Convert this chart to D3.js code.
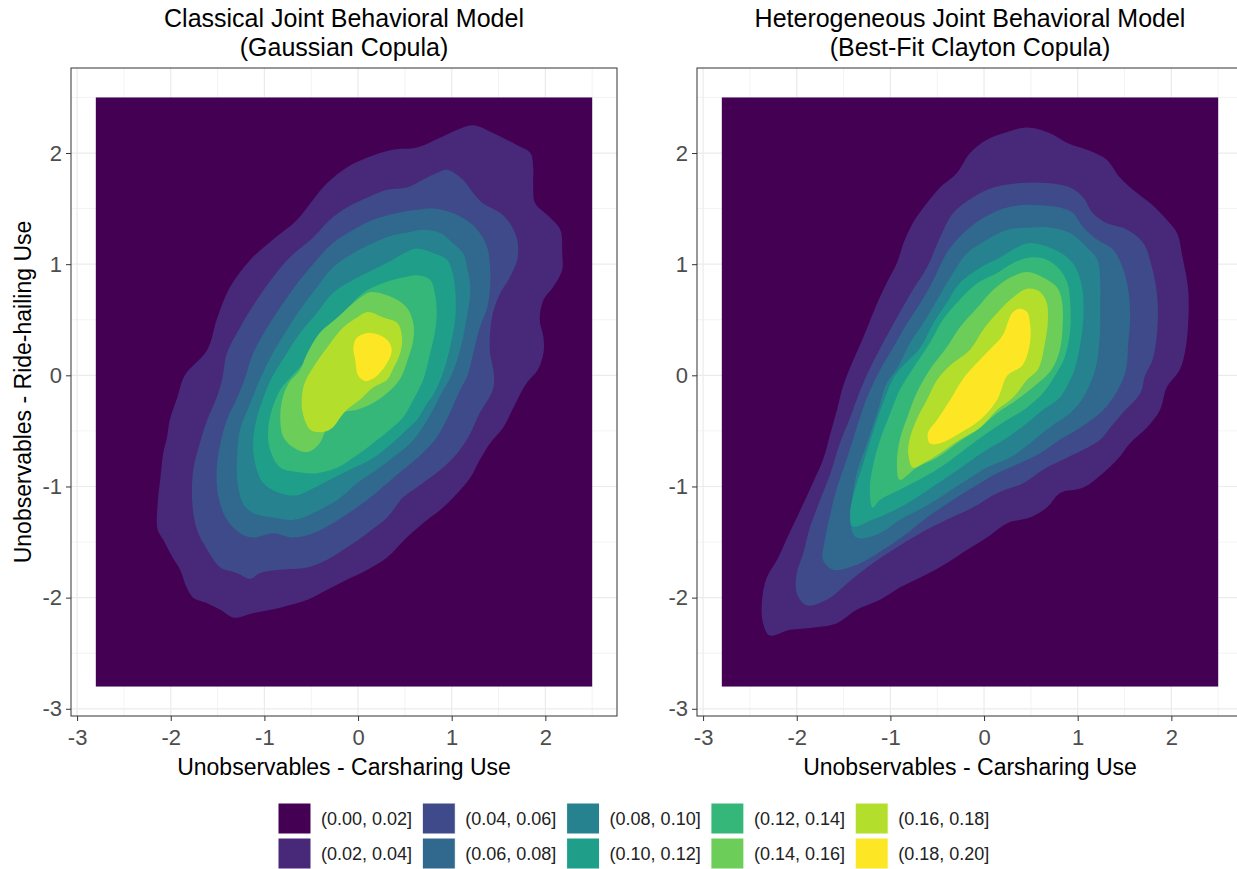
<!DOCTYPE html>
<html>
  <head>
    <title>Joint Behavioral Model densities</title>
    <script src="https://cdn.jsdelivr.net/npm/d3@7"></script>
    <style>
      body, html { margin: 0; padding: 0; background: #fff; }
      svg text { font-family: "Liberation Sans", Arial, sans-serif; }
    </style>
  </head>
  <body>
    <svg id="svg" width="1237" height="869"></svg>
    <script>
      // ---- data ----
      const xTicks = [-3, -2, -1, 0, 1, 2];
      const yTicks = [-3, -2, -1, 0, 1, 2];
      const gridExtent = [-2.8, 2.5]; // density grid covers this in x and y
      const bandLabels = ["(0.00, 0.02]", "(0.02, 0.04]", "(0.04, 0.06]", "(0.06, 0.08]", "(0.08, 0.10]",
                          "(0.10, 0.12]", "(0.12, 0.14]", "(0.14, 0.16]", "(0.16, 0.18]", "(0.18, 0.20]"];
      const titlesLeft = ["Classical Joint Behavioral Model", "(Gaussian Copula)"];
      const titlesRight = ["Heterogeneous Joint Behavioral Model", "(Best-Fit Clayton Copula)"];
      const xTitle = "Unobservables - Carsharing Use";
      const yTitle = "Unobservables - Ride-hailing Use";

      // contour outlines (x, y) where density > level, Gaussian copula panel
      const gauss_02 = [[1.23,2.25],[1.44,2.18],[1.70,2.07],[1.84,2.00],[1.87,1.87],[1.87,1.69],[1.89,1.55],[2.05,1.42],[2.16,1.31],[2.18,1.10],[2.18,0.95],[2.08,0.79],[1.98,0.68],[1.94,0.50],[1.98,0.34],[1.98,0.20],[1.92,0.05],[1.80,-0.07],[1.66,-0.29],[1.55,-0.47],[1.41,-0.61],[1.30,-0.76],[1.20,-0.92],[1.06,-1.06],[0.88,-1.21],[0.74,-1.30],[0.52,-1.46],[0.31,-1.64],[0.10,-1.75],[-0.12,-1.84],[-0.33,-1.93],[-0.54,-2.02],[-0.83,-2.09],[-1.12,-2.14],[-1.33,-2.18],[-1.47,-2.11],[-1.61,-2.05],[-1.76,-2.00],[-1.83,-1.91],[-1.90,-1.75],[-1.98,-1.64],[-2.08,-1.48],[-2.14,-1.39],[-2.14,-1.15],[-2.11,-0.92],[-2.08,-0.70],[-2.04,-0.56],[-2.01,-0.40],[-1.93,-0.20],[-1.85,0.00],[-1.61,0.23],[-1.51,0.50],[-1.37,0.79],[-1.15,1.04],[-0.91,1.22],[-0.65,1.40],[-0.48,1.58],[-0.33,1.73],[-0.12,1.87],[0.10,1.96],[0.37,2.03],[0.63,2.05],[0.88,2.14],[1.06,2.21]];
      const gauss_04 = [[0.95,1.85],[1.12,1.76],[1.23,1.64],[1.33,1.55],[1.52,1.46],[1.62,1.37],[1.70,1.22],[1.70,1.04],[1.62,0.88],[1.52,0.74],[1.44,0.56],[1.41,0.38],[1.41,0.20],[1.45,0.02],[1.44,-0.13],[1.30,-0.34],[1.20,-0.52],[1.06,-0.70],[0.88,-0.85],[0.69,-0.97],[0.48,-1.10],[0.31,-1.28],[0.10,-1.42],[-0.12,-1.55],[-0.33,-1.66],[-0.54,-1.73],[-0.83,-1.75],[-1.05,-1.78],[-1.15,-1.83],[-1.29,-1.78],[-1.47,-1.73],[-1.61,-1.57],[-1.72,-1.39],[-1.77,-1.15],[-1.76,-0.85],[-1.69,-0.61],[-1.61,-0.40],[-1.51,-0.20],[-1.45,-0.03],[-1.40,0.20],[-1.26,0.43],[-1.08,0.68],[-0.91,0.88],[-0.73,1.06],[-0.48,1.24],[-0.30,1.40],[-0.12,1.51],[0.10,1.60],[0.31,1.67],[0.52,1.69],[0.69,1.76],[0.84,1.82]];
      const gauss_06 = [[0.80,1.50],[1.01,1.46],[1.20,1.37],[1.30,1.28],[1.38,1.15],[1.41,0.97],[1.41,0.79],[1.38,0.61],[1.30,0.43],[1.23,0.20],[1.17,0.00],[1.09,-0.13],[0.98,-0.34],[0.84,-0.56],[0.69,-0.70],[0.48,-0.85],[0.31,-0.97],[0.13,-1.10],[-0.05,-1.21],[-0.27,-1.33],[-0.48,-1.42],[-0.69,-1.46],[-0.91,-1.42],[-1.12,-1.46],[-1.26,-1.42],[-1.40,-1.30],[-1.49,-1.10],[-1.51,-0.85],[-1.47,-0.61],[-1.40,-0.40],[-1.29,-0.20],[-1.21,-0.03],[-1.12,0.20],[-0.97,0.43],[-0.80,0.65],[-0.62,0.86],[-0.44,1.04],[-0.27,1.19],[-0.05,1.31],[0.16,1.40],[0.42,1.46],[0.63,1.49]];
      const gauss_08 = [[0.69,1.31],[0.88,1.28],[1.01,1.19],[1.12,1.10],[1.17,0.95],[1.20,0.77],[1.17,0.56],[1.12,0.34],[1.06,0.14],[0.98,-0.03],[0.91,-0.13],[0.80,-0.31],[0.69,-0.47],[0.56,-0.61],[0.37,-0.74],[0.20,-0.85],[-0.01,-0.97],[-0.22,-1.12],[-0.48,-1.24],[-0.69,-1.30],[-0.91,-1.28],[-1.12,-1.24],[-1.23,-1.15],[-1.29,-0.94],[-1.29,-0.70],[-1.26,-0.49],[-1.15,-0.25],[-1.05,-0.04],[-0.91,0.20],[-0.76,0.41],[-0.62,0.59],[-0.44,0.79],[-0.27,0.97],[-0.05,1.10],[0.16,1.19],[0.37,1.26],[0.56,1.29]];
      const gauss_10 = [[0.63,1.14],[0.80,1.10],[0.95,1.04],[1.01,0.92],[1.04,0.74],[1.04,0.52],[1.00,0.32],[0.95,0.14],[0.88,-0.04],[0.80,-0.18],[0.74,-0.25],[0.63,-0.40],[0.48,-0.52],[0.31,-0.65],[0.13,-0.76],[-0.09,-0.85],[-0.30,-0.94],[-0.51,-1.03],[-0.65,-1.08],[-0.83,-1.06],[-1.01,-0.97],[-1.10,-0.79],[-1.12,-0.58],[-1.08,-0.38],[-1.01,-0.20],[-0.92,-0.02],[-0.76,0.20],[-0.62,0.38],[-0.44,0.56],[-0.27,0.74],[-0.05,0.86],[0.16,0.95],[0.37,1.04],[0.52,1.11]];
      const gauss_12 = [[0.63,0.90],[0.77,0.86],[0.82,0.74],[0.84,0.56],[0.82,0.38],[0.77,0.20],[0.70,-0.03],[0.59,-0.22],[0.48,-0.38],[0.34,-0.49],[0.16,-0.61],[-0.05,-0.74],[-0.22,-0.83],[-0.44,-0.88],[-0.65,-0.87],[-0.83,-0.83],[-0.94,-0.67],[-0.96,-0.49],[-0.92,-0.31],[-0.83,-0.13],[-0.70,0.00],[-0.48,0.20],[-0.30,0.41],[-0.12,0.59],[0.05,0.74],[0.27,0.83],[0.48,0.88]];
      const gauss_14 = [[0.16,0.75],[0.37,0.70],[0.52,0.61],[0.59,0.47],[0.59,0.32],[0.53,0.14],[0.45,-0.03],[0.31,-0.16],[0.16,-0.25],[-0.01,-0.31],[-0.19,-0.34],[-0.33,-0.47],[-0.41,-0.61],[-0.54,-0.69],[-0.69,-0.65],[-0.80,-0.55],[-0.83,-0.40],[-0.81,-0.22],[-0.74,-0.07],[-0.62,0.05],[-0.54,0.20],[-0.41,0.38],[-0.22,0.52],[-0.05,0.65],[0.10,0.74]];
      const gauss_16 = [[0.10,0.57],[0.27,0.52],[0.42,0.47],[0.47,0.34],[0.45,0.20],[0.37,0.05],[0.31,-0.04],[0.16,-0.11],[0.02,-0.22],[-0.12,-0.31],[-0.19,-0.38],[-0.27,-0.47],[-0.37,-0.51],[-0.51,-0.49],[-0.59,-0.34],[-0.60,-0.20],[-0.57,-0.07],[-0.48,0.07],[-0.33,0.25],[-0.16,0.43],[-0.01,0.52]];
      const gauss_18 = [[-0.01,0.34],[0.13,0.38],[0.31,0.32],[0.36,0.23],[0.31,0.11],[0.23,0.02],[0.16,-0.03],[0.07,-0.05],[0.00,0.00],[-0.03,0.14],[-0.05,0.25]];

      // contour outlines, Clayton copula panel
      const clay_02 = [[0.46,2.23],[0.70,2.18],[0.89,2.09],[1.16,2.01],[1.31,1.94],[1.45,1.78],[1.59,1.67],[1.80,1.53],[1.95,1.40],[2.06,1.28],[2.12,1.06],[2.18,0.77],[2.18,0.47],[2.15,0.23],[2.09,0.05],[1.95,-0.11],[1.88,-0.31],[1.74,-0.47],[1.56,-0.61],[1.42,-0.76],[1.27,-0.88],[1.06,-1.01],[0.81,-1.06],[0.67,-1.19],[0.49,-1.28],[0.25,-1.33],[0.03,-1.46],[-0.18,-1.57],[-0.40,-1.69],[-0.68,-1.82],[-0.90,-1.91],[-1.11,-2.02],[-1.36,-2.11],[-1.57,-2.23],[-1.83,-2.27],[-2.07,-2.29],[-2.29,-2.34],[-2.36,-2.23],[-2.37,-2.02],[-2.32,-1.82],[-2.21,-1.66],[-2.10,-1.46],[-1.96,-1.21],[-1.83,-0.97],[-1.72,-0.76],[-1.64,-0.52],[-1.57,-0.31],[-1.51,-0.11],[-1.43,0.07],[-1.29,0.34],[-1.14,0.65],[-1.04,0.83],[-0.93,1.01],[-0.86,1.19],[-0.76,1.37],[-0.61,1.55],[-0.47,1.69],[-0.29,1.82],[-0.15,2.00],[0.03,2.12],[0.25,2.19]];
      const clay_04 = [[0.38,1.73],[0.67,1.73],[0.92,1.69],[1.06,1.60],[1.16,1.46],[1.31,1.37],[1.53,1.31],[1.70,1.19],[1.80,0.95],[1.85,0.70],[1.85,0.41],[1.80,0.14],[1.72,0.00],[1.67,-0.16],[1.48,-0.34],[1.35,-0.47],[1.24,-0.58],[1.06,-0.67],[0.84,-0.76],[0.63,-0.85],[0.42,-0.97],[0.14,-1.06],[-0.12,-1.19],[-0.40,-1.30],[-0.68,-1.42],[-0.97,-1.57],[-1.25,-1.73],[-1.46,-1.87],[-1.68,-2.02],[-1.89,-2.07],[-2.00,-1.96],[-2.00,-1.78],[-1.93,-1.60],[-1.86,-1.37],[-1.75,-1.12],[-1.64,-0.88],[-1.54,-0.61],[-1.43,-0.38],[-1.32,-0.13],[-1.22,0.06],[-1.08,0.29],[-0.93,0.52],[-0.76,0.77],[-0.61,0.97],[-0.47,1.24],[-0.33,1.46],[-0.12,1.60],[0.10,1.69]];
      const clay_06 = [[0.60,1.53],[0.81,1.51],[0.95,1.46],[1.06,1.33],[1.21,1.22],[1.38,1.13],[1.48,0.97],[1.54,0.77],[1.56,0.52],[1.54,0.29],[1.51,0.03],[1.38,-0.20],[1.24,-0.34],[1.03,-0.47],[0.81,-0.58],[0.60,-0.70],[0.38,-0.79],[0.14,-0.88],[-0.12,-1.01],[-0.33,-1.12],[-0.61,-1.28],[-0.82,-1.42],[-1.08,-1.57],[-1.32,-1.69],[-1.61,-1.75],[-1.72,-1.66],[-1.70,-1.48],[-1.64,-1.24],[-1.57,-1.01],[-1.46,-0.74],[-1.36,-0.47],[-1.25,-0.20],[-1.11,0.05],[-0.97,0.25],[-0.82,0.47],[-0.68,0.65],[-0.54,0.86],[-0.40,1.10],[-0.22,1.28],[-0.04,1.40],[0.17,1.49],[0.38,1.53]];
      const clay_08 = [[0.49,1.33],[0.70,1.33],[0.92,1.28],[1.10,1.15],[1.21,1.04],[1.24,0.86],[1.24,0.65],[1.24,0.41],[1.21,0.14],[1.16,-0.02],[1.06,-0.20],[0.92,-0.34],[0.70,-0.47],[0.49,-0.61],[0.28,-0.74],[0.03,-0.83],[-0.18,-0.94],[-0.40,-1.06],[-0.65,-1.19],[-0.90,-1.30],[-1.11,-1.42],[-1.36,-1.46],[-1.43,-1.33],[-1.41,-1.12],[-1.36,-0.88],[-1.25,-0.61],[-1.14,-0.34],[-1.04,-0.07],[-0.93,0.06],[-0.79,0.29],[-0.65,0.47],[-0.50,0.68],[-0.36,0.88],[-0.18,1.10],[0.03,1.22],[0.25,1.31]];
      const clay_10 = [[0.49,1.19],[0.70,1.15],[0.89,1.06],[0.99,0.95],[1.05,0.77],[1.06,0.52],[1.03,0.29],[0.97,0.06],[0.92,-0.04],[0.81,-0.20],[0.63,-0.31],[0.46,-0.43],[0.25,-0.56],[0.03,-0.67],[-0.18,-0.79],[-0.40,-0.92],[-0.65,-1.06],[-0.90,-1.19],[-1.19,-1.30],[-1.40,-1.36],[-1.43,-1.24],[-1.38,-1.03],[-1.29,-0.79],[-1.19,-0.52],[-1.08,-0.25],[-0.95,0.00],[-0.68,0.25],[-0.54,0.47],[-0.40,0.65],[-0.26,0.83],[-0.04,0.97],[0.17,1.06],[0.35,1.15]];
      const clay_12 = [[0.49,1.06],[0.67,1.04],[0.81,0.95],[0.89,0.83],[0.92,0.65],[0.92,0.41],[0.86,0.16],[0.76,0.00],[0.63,-0.16],[0.46,-0.29],[0.25,-0.40],[0.03,-0.52],[-0.18,-0.65],[-0.40,-0.79],[-0.65,-0.92],[-0.90,-1.03],[-1.11,-1.12],[-1.19,-1.19],[-1.22,-1.03],[-1.19,-0.83],[-1.11,-0.58],[-1.00,-0.34],[-0.90,-0.13],[-0.76,0.06],[-0.58,0.29],[-0.44,0.50],[-0.26,0.68],[-0.07,0.83],[0.14,0.92],[0.31,1.01]];
      const clay_14 = [[0.46,0.93],[0.63,0.88],[0.78,0.79],[0.83,0.68],[0.84,0.47],[0.81,0.23],[0.72,0.05],[0.52,-0.11],[0.35,-0.22],[0.14,-0.34],[-0.07,-0.49],[-0.29,-0.61],[-0.50,-0.74],[-0.72,-0.83],[-0.90,-0.94],[-0.93,-0.79],[-0.90,-0.58],[-0.82,-0.38],[-0.72,-0.16],[-0.58,0.05],[-0.40,0.25],[-0.26,0.43],[-0.07,0.61],[0.10,0.77],[0.28,0.88]];
      const clay_16 = [[0.46,0.78],[0.60,0.75],[0.67,0.65],[0.68,0.47],[0.65,0.29],[0.58,0.06],[0.46,-0.04],[0.31,-0.20],[0.14,-0.31],[-0.04,-0.47],[-0.26,-0.58],[-0.47,-0.70],[-0.65,-0.79],[-0.76,-0.83],[-0.81,-0.70],[-0.79,-0.56],[-0.72,-0.40],[-0.61,-0.22],[-0.50,-0.04],[-0.36,0.09],[-0.15,0.23],[-0.01,0.41],[0.14,0.56],[0.28,0.68]];
      const clay_18 = [[0.38,0.60],[0.46,0.57],[0.49,0.47],[0.49,0.29],[0.41,0.09],[0.25,0.00],[0.14,-0.22],[-0.04,-0.40],[-0.26,-0.52],[-0.47,-0.61],[-0.58,-0.61],[-0.60,-0.52],[-0.50,-0.40],[-0.36,-0.22],[-0.23,-0.04],[-0.10,0.09],[0.06,0.23],[0.20,0.36],[0.30,0.56]];

      // viridis(10), one colour per band
      const bandColors = ["#440154", "#482878", "#3E4A89", "#31688E", "#26828E",
                          "#1F9E89", "#35B779", "#6DCD59", "#B4DE2C", "#FDE725"];

      const svg = d3.select("#svg");
      const font = '"Liberation Sans", Arial, sans-serif';

      // ggplot style 5% expansion around the grid
      const span = gridExtent[1] - gridExtent[0];
      const domain = [gridExtent[0] - 0.05 * span, gridExtent[1] + 0.05 * span];

      const panelW = 546, panelTop = 68, panelBottom = 716;

      function drawPanel(left, titles, levels, showYTitle) {
        const x = d3.scaleLinear().domain(domain).range([left, left + panelW]);
        const y = d3.scaleLinear().domain(domain).range([panelBottom, panelTop]);
        const g = svg.append("g");

        // grid lines (theme_bw)
        const minor = d3.range(-2.5, 3, 1);
        g.selectAll(".vminor").data(minor).join("line")
          .attr("x1", d => x(d)).attr("x2", d => x(d))
          .attr("y1", panelTop).attr("y2", panelBottom)
          .attr("stroke", "#EBEBEB").attr("stroke-width", 0.6);
        g.selectAll(".hminor").data(minor).join("line")
          .attr("y1", d => y(d)).attr("y2", d => y(d))
          .attr("x1", left).attr("x2", left + panelW)
          .attr("stroke", "#EBEBEB").attr("stroke-width", 0.6);
        g.selectAll(".vmajor").data(xTicks).join("line")
          .attr("x1", d => x(d)).attr("x2", d => x(d))
          .attr("y1", panelTop).attr("y2", panelBottom)
          .attr("stroke", "#EBEBEB").attr("stroke-width", 1.2);
        g.selectAll(".hmajor").data(yTicks).join("line")
          .attr("y1", d => y(d)).attr("y2", d => y(d))
          .attr("x1", left).attr("x2", left + panelW)
          .attr("stroke", "#EBEBEB").attr("stroke-width", 1.2);

        // lowest band fills the whole grid
        g.append("rect")
          .attr("x", x(gridExtent[0])).attr("y", y(gridExtent[1]))
          .attr("width", x(gridExtent[1]) - x(gridExtent[0]))
          .attr("height", y(gridExtent[0]) - y(gridExtent[1]))
          .attr("fill", bandColors[0]);

        const linegen = d3.line()
          .x(d => x(d[0]))
          .y(d => y(d[1]))
          .curve(d3.curveCatmullRomClosed.alpha(0.5));

        levels.forEach((pts, i) => {
          g.append("path")
            .attr("d", linegen(pts))
            .attr("fill", bandColors[i + 1])
            .attr("stroke", "none");
        });

        // panel border
        g.append("rect")
          .attr("x", left).attr("y", panelTop)
          .attr("width", panelW).attr("height", panelBottom - panelTop)
          .attr("fill", "none").attr("stroke", "#333").attr("stroke-width", 1);

        const bottomAxis = d3.axisBottom(x).tickValues(xTicks).tickSize(5).tickPadding(8).tickFormat(d => String(d));
        const leftAxis = d3.axisLeft(y).tickValues(yTicks).tickSize(5).tickPadding(4).tickFormat(d => String(d));

        const ax = g.append("g").attr("transform", `translate(0, ${panelBottom})`).call(bottomAxis);
        const ay = g.append("g").attr("transform", `translate(${left}, 0)`).call(leftAxis);
        [ax, ay].forEach(a => {
          a.select(".domain").remove();
          a.selectAll("line").attr("stroke", "#333");
          a.selectAll("text").attr("font-size", 22).attr("fill", "#4D4D4D").attr("font-family", font);
        });

        // titles
        const cx = left + panelW / 2;
        g.append("text").attr("x", cx).attr("y", 27).attr("text-anchor", "middle")
          .attr("font-size", 25).attr("fill", "#000").text(titles[0]);
        g.append("text").attr("x", cx).attr("y", 56).attr("text-anchor", "middle")
          .attr("font-size", 25).attr("fill", "#000").text(titles[1]);

        g.append("text").attr("x", cx).attr("y", 775).attr("text-anchor", "middle")
          .attr("font-size", 23).attr("fill", "#000").text(xTitle);

        if (showYTitle) {
          g.append("text")
            .attr("transform", `translate(31, ${(panelTop + panelBottom) / 2}) rotate(-90)`)
            .attr("text-anchor", "middle")
            .attr("font-size", 23).attr("fill", "#000").text(yTitle);
        }
      }

      drawPanel(71, titlesLeft,
        [gauss_02, gauss_04, gauss_06, gauss_08, gauss_10, gauss_12, gauss_14, gauss_16, gauss_18], true);
      drawPanel(697, titlesRight,
        [clay_02, clay_04, clay_06, clay_08, clay_10, clay_12, clay_14, clay_16, clay_18], false);

      // legend: 2 rows, filled column by column
      const legend = svg.append("g");
      const keyW = 33, keyH = 31;
      bandLabels.forEach((lab, i) => {
        const col = Math.floor(i / 2), row = i % 2;
        const kx = 278 + col * 144.3, ky = 803 + row * 35;
        legend.append("rect").attr("x", kx).attr("y", ky).attr("width", keyW).attr("height", keyH)
          .attr("fill", bandColors[i]).attr("stroke", "#fff").attr("stroke-width", 1);
        legend.append("text").attr("x", kx + keyW + 10).attr("y", ky + keyH / 2)
          .attr("dominant-baseline", "central")
          .attr("font-size", 18).attr("fill", "#222").text(lab);
      });
    </script>
  </body>
</html>
